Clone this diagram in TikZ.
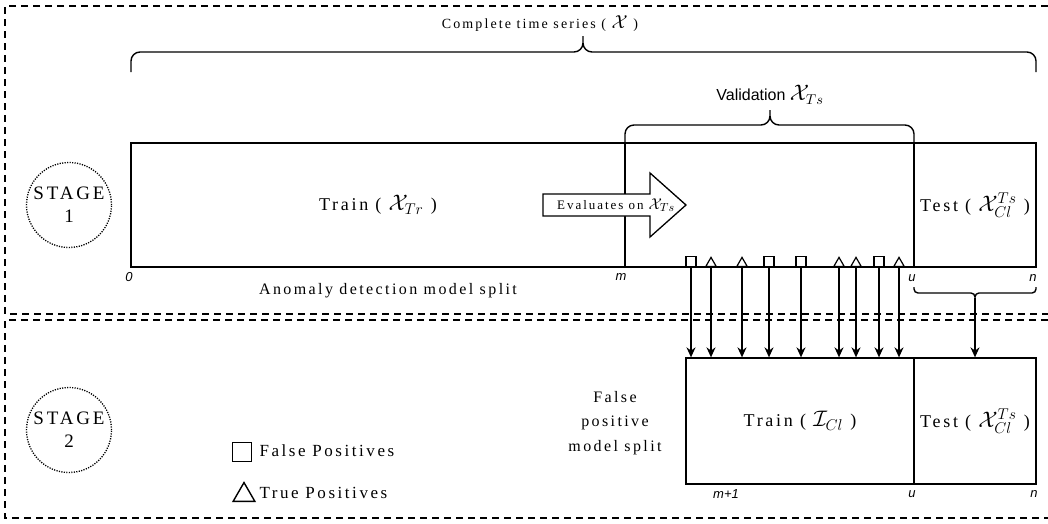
\documentclass[tikz,border=0pt]{standalone}
\usepackage{amsmath}
\usepackage{amssymb}
\usepackage{fontspec}
\setmainfont{Liberation Serif}[LetterSpace=15]
\setsansfont{Liberation Sans}
\usepackage{tikz}
\usetikzlibrary{arrows.meta,shapes.geometric}

\newcommand{\sym}[1]{\scalebox{1.3}{$#1$}}

\begin{document}
\begin{tikzpicture}[x=1pt, y=-1pt,
		box/.style={draw, line width=1.3pt, inner sep=0pt, font=\fontsize{18}{21}\selectfont},
		stage/.style={circle, draw, line width=1.3pt, dash pattern=on 1.2pt off 1.3pt, minimum size=85pt, inner sep=0pt},
		stagetext/.style={align=center, font=\fontsize{19}{23}\selectfont},
		idx/.style={font=\sffamily\itshape\fontsize{13}{15}\selectfont},
		fp/.style={draw, fill=white, line width=1.2pt, minimum size=10pt, inner sep=0pt, anchor=south},
		tp/.style={draw, fill=white, line width=1.2pt, regular polygon, regular polygon sides=3, minimum size=12pt, inner sep=0pt, anchor=south},
		legend/.style={anchor=west, font=\fontsize{17}{19}\selectfont},
		curly/.style={line width=1.4pt, rounded corners=9pt},
		link/.style={line width=1.4pt, -{Stealth[length=10pt, width=9pt]}},
		frame/.style={line width=1.5pt, dash pattern=on 7pt off 5pt}]
		\useasboundingbox (0,0) rectangle (1048,523);

		\draw[frame] (1048,  6) -- (5,  6) -- (5,314) -- (1048,314);
		\draw[frame] (1048,320) -- (5,320) -- (5,518) -- (1048,518);

		\node[stage, label={[stagetext]center:STAGE\\1}] (stage1) at (69,205) {};
		\node[stage, label={[stagetext]center:STAGE\\2}] (stage2) at (69,430) {};

		\node[font=\fontsize{14}{16}\selectfont] (fulltext) at (540, 24) {Complete time series ( \sym{\mathcal{X}} )};
		\draw[curly] (131,72) |- (583,52) -- (583,36) (583,36) |- (1036,52) -- (1036,72);

		\node[font=\sffamily\fontsize{16}{18}\selectfont] (valtext) at (770, 95) {Validation \sym{\mathcal{X}_{Ts}}};
		\draw[curly] (625,143) |- (770,125) -- (770,110) (770,110) |- (914,125) -- (914,143);

		\node[box, minimum width=494pt, minimum height=124pt] (trainA) at (378,205) {Train ( \sym{\mathcal{X}_{Tr}} )};
		\node[box, minimum width=289pt, minimum height=124pt] (valA)   at (769.5,205) {};
		\node[box, minimum width=122pt, minimum height=124pt] (testA)  at (975,205) {Test ( \sym{\mathcal{X}^{Ts}_{Cl}} )};

		\draw[line width=1.3pt, fill=white] (543,194) -- (650,194) -- (650,173) -- (686,205) -- (650,237) -- (650,216) -- (543,216) -- cycle;
		\node[font=\fontsize{13}{15}\selectfont] (evalnote) at (616,205) {Evaluates on \sym{\mathcal{X}_{Ts}}};

		\node[idx] (i0) at ( 129,277) {0};
		\node[idx] (im) at ( 621,277) {m};
		\node[idx] (iu) at ( 912,278) {u};
		\node[idx] (in) at (1033,278) {n};

		\node[font=\fontsize{16}{18}\selectfont] (adsplit) at (388,291) {Anomaly detection model split};

		\node[fp] (v1) at (691,267) {};
		\node[tp] (v2) at (711,267) {};
		\node[tp] (v3) at (742,267) {};
		\node[fp] (v4) at (769,267) {};
		\node[fp] (v5) at (801,267) {};
		\node[tp] (v6) at (839,267) {};
		\node[tp] (v7) at (856,267) {};
		\node[fp] (v8) at (879,267) {};
		\node[tp] (v9) at (899,267) {};

		\draw[curly, rounded corners=4pt] (914,287) |- (975,293) -- (975,298) (975,298) |- (1036,293) -- (1036,287);
		\coordinate (untip) at (975,298);

		\node[box, minimum width=228pt, minimum height=126pt] (trainB) at (800,421) {Train ( \sym{\mathcal{I}_{Cl}} )};
		\node[box, minimum width=122pt, minimum height=126pt] (testB)  at (975,421) {Test ( \sym{\mathcal{X}^{Ts}_{Cl}} )};

		\draw[link] (v1.south) -- (v1.south |- trainB.north);
		\draw[link] (v2.south) -- (v2.south |- trainB.north);
		\draw[link] (v3.south) -- (v3.south |- trainB.north);
		\draw[link] (v4.south) -- (v4.south |- trainB.north);
		\draw[link] (v5.south) -- (v5.south |- trainB.north);
		\draw[link] (v6.south) -- (v6.south |- trainB.north);
		\draw[link] (v7.south) -- (v7.south |- trainB.north);
		\draw[link] (v8.south) -- (v8.south |- trainB.north);
		\draw[link] (v9.south) -- (v9.south |- trainB.north);
		\draw[link] (untip) -- (untip |- testB.north);

		\node[align=center, font=\fontsize{16}{24.5}\selectfont] (fpsplit) at (615,423) {False\\positive\\model split};

		\node[idx] (jm) at ( 726,494) {m+1};
		\node[idx] (ju) at ( 912,494) {u};
		\node[idx] (jn) at (1034,494) {n};

		\node[draw, line width=1.4pt, minimum size=19pt, inner sep=0pt] (fpkey) at (242,452) {};
		\node[draw, line width=1.4pt, regular polygon, regular polygon sides=3, minimum size=25pt, inner sep=0pt, anchor=south] (tpkey) at (244,502) {};
		\node[legend] (fpnote) at (256,451) {False Positives};
		\node[legend] (tpnote) at (256,493) {True Positives};
	\end{tikzpicture}
\end{document}
